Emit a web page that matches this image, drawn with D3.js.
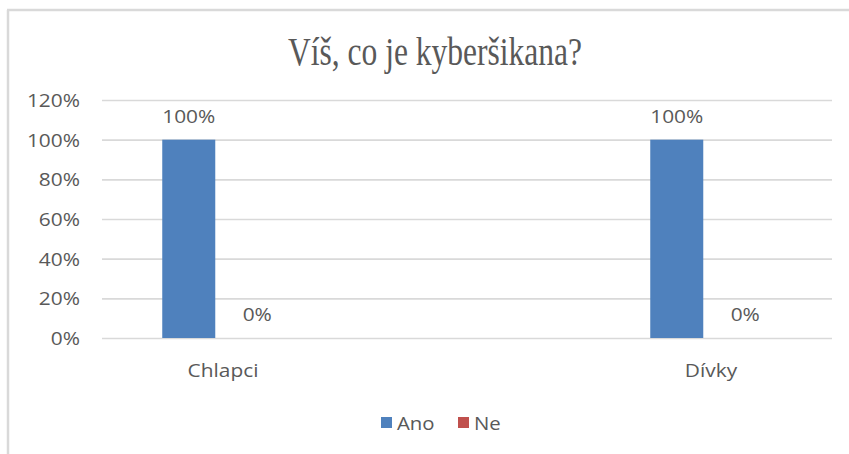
<!DOCTYPE html>
<html><head><meta charset="utf-8">
<script src="https://cdn.jsdelivr.net/npm/d3@7"></script>
<style>
html,body{margin:0;padding:0;background:#fff;}
svg{display:block;}
</style></head>
<body>
<svg id="chart" width="849" height="454"></svg>
<script>
const title = "Víš, co je kyberšikana?";
const categories = ["Chlapci", "Dívky"];
const seriesNames = ["Ano", "Ne"];
const seriesColors = ["#4f81bd", "#c0504d"];
const anoValues = [1.0, 1.0];
const neValues = [0.0, 0.0];
const yTicks = [0, 0.2, 0.4, 0.6, 0.8, 1.0, 1.2];

const values = [anoValues, neValues];
const svg = d3.select("#chart");
const textColor = "#595959";
const sansFont = "'Open Sans', sans-serif";
const stretch = 1.16;

function stretchText(sel, factor) {
  sel.each(function() {
    const w = this.getComputedTextLength();
    d3.select(this).attr("textLength", w * factor).attr("lengthAdjust", "spacingAndGlyphs");
  });
}

// frame
svg.append("line").attr("x1", 7).attr("x2", 849).attr("y1", 10).attr("y2", 10)
  .attr("stroke", "#d9d9d9").attr("stroke-width", 2.5);
svg.append("line").attr("x1", 8).attr("x2", 8).attr("y1", 10).attr("y2", 454)
  .attr("stroke", "#d9d9d9").attr("stroke-width", 2.5);

// title
const t = svg.append("text").attr("x", 435).attr("y", 65).attr("text-anchor", "middle")
  .attr("font-family", "'Liberation Serif', 'Times New Roman', serif").attr("font-size", 40)
  .attr("fill", textColor).text(title);
t.attr("textLength", 294).attr("lengthAdjust", "spacingAndGlyphs");

const plotLeft = 102, plotRight = 832;
const y = d3.scaleLinear().domain([0, 1.2]).range([338, 100]);
const x = d3.scalePoint().domain(categories).range([223, 711]);
const xs = d3.scaleBand().domain(seriesNames).range([-60.75, 60.75]).paddingInner(0.226);

// y axis with gridlines
const yAxis = d3.axisLeft(y).tickValues(yTicks).tickFormat(d3.format(".0%"))
  .tickSize(-(plotRight - plotLeft)).tickPadding(22);
const ga = svg.append("g").attr("transform", `translate(${plotLeft},0)`).call(yAxis);
ga.select(".domain").remove();
ga.selectAll(".tick line").attr("stroke", "#d9d9d9").attr("stroke-width", 1.6);
ga.selectAll(".tick text").attr("font-family", sansFont).attr("font-size", 18)
  .attr("fill", textColor).attr("dy", "0.36em");
stretchText(ga.selectAll(".tick text"), stretch);

// bars
seriesNames.forEach((s, si) => {
  const g = svg.append("g");
  categories.forEach((c, ci) => {
    const v = values[si][ci];
    const bx = x(c) + xs(s);
    g.append("rect").attr("x", bx).attr("width", xs.bandwidth())
      .attr("y", y(v)).attr("height", y(0) - y(v)).attr("fill", seriesColors[si]);
    const lab = g.append("text").attr("x", bx + xs.bandwidth() / 2).attr("y", y(v) - 17)
      .attr("text-anchor", "middle").attr("font-family", sansFont).attr("font-size", 18)
      .attr("fill", textColor).text(d3.format(".0%")(v));
    stretchText(lab, stretch);
  });
});

// category labels
categories.forEach(c => {
  const lab = svg.append("text").attr("x", x(c)).attr("y", 377).attr("text-anchor", "middle")
    .attr("font-family", sansFont).attr("font-size", 18).attr("fill", textColor).text(c);
  stretchText(lab, stretch);
});

// legend
const legendX = [381, 458];
seriesNames.forEach((s, i) => {
  svg.append("rect").attr("x", legendX[i]).attr("y", 417).attr("width", 11).attr("height", 11)
    .attr("fill", seriesColors[i]);
  const lab = svg.append("text").attr("x", legendX[i] + 16).attr("y", 430)
    .attr("font-family", sansFont).attr("font-size", 18).attr("fill", textColor).text(s);
  stretchText(lab, 1.13);
});
</script>
</body></html>
